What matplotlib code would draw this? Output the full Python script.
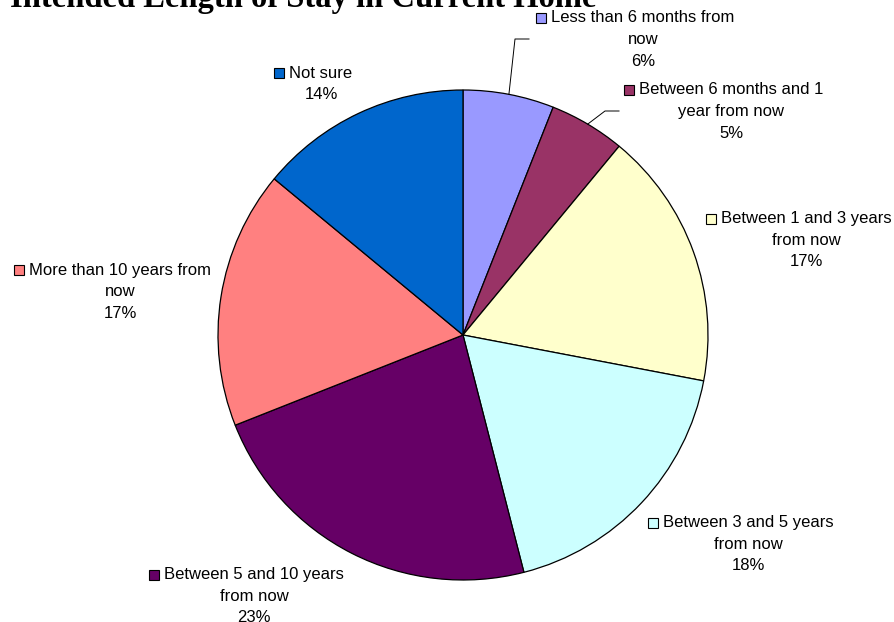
import matplotlib
matplotlib.use("Agg")
import matplotlib.pyplot as plt
import numpy as np
from matplotlib.patches import Rectangle

# survey answers, clockwise from 12 o'clock
categories = [
    "Less than 6 months from\nnow",
    "Between 6 months and 1\nyear from now",
    "Between 1 and 3 years\nfrom now",
    "Between 3 and 5 years\nfrom now",
    "Between 5 and 10 years\nfrom now",
    "More than 10 years from\nnow",
    "Not sure",
]
shares = [6, 5, 17, 18, 23, 17, 14]
colors = ["#9999FF", "#993366", "#FFFFCC", "#CCFFFF", "#660066", "#FF8080", "#0066CC"]

# label block placement (centre x, first line y) in pixels from the top left
label_pos = [(643, 18), (731, 90), (806, 219), (748, 523), (254, 575), (120, 270), (321, 73)]
# leader lines for the two thin slices: elbow point and end point
leaders = {0: [(515, 39), (529, 39)], 1: [(605, 111), (619, 111)]}

W, H = 894, 622
cx, cy, r = 463, 335, 245

fig = plt.figure(figsize=(W / 100, H / 100), dpi=100)
fig.patch.set_facecolor("white")

ax = fig.add_axes([(cx - r) / W, (H - cy - r) / H, 2 * r / W, 2 * r / H])
wedges, _ = ax.pie(shares, colors=colors, startangle=90, counterclock=False,
                   wedgeprops=dict(edgecolor="black", linewidth=0.9))
ax.set_xlim(-1, 1)
ax.set_ylim(-1, 1)
ax.set_aspect("equal")
ax.axis("off")

# overlay in pixel coordinates for the title, labels and leaders
ov = fig.add_axes([0, 0, 1, 1], zorder=5)
ov.set_xlim(0, W)
ov.set_ylim(H, 0)
ov.axis("off")

title_kw = dict(va="baseline", fontsize=23.5, fontweight="bold",
                family="Liberation Serif", clip_on=False)
ov.text(3, 7, "7", ha="right", **title_kw)
ov.text(10, 7, "Intended Length of Stay in Current Home", ha="left", **title_kw)

fig.canvas.draw()
renderer = fig.canvas.get_renderer()
inv = ov.transData.inverted()

line_h = 21.5
total = sum(shares)
start = 90.0
for i, (lab, val) in enumerate(zip(categories, shares)):
    lines = lab.split("\n") + [f"{val}%"]
    x0, y0 = label_pos[i]
    texts = []
    for k, ln in enumerate(lines):
        t = ov.text(x0, y0 + k * line_h, ln, ha="center", va="center",
                    fontsize=12, family="Liberation Sans", color="black")
        texts.append(t)
    # legend key to the left of the first line
    bb = texts[0].get_window_extent(renderer)
    left = inv.transform((bb.x0, bb.y0))[0]
    ov.add_patch(Rectangle((left - 15, y0 - 5), 10, 10, facecolor=colors[i],
                           edgecolor="black", linewidth=0.8))

    # slice mid angle for the leaders
    sweep = 360.0 * val / total
    mid = np.deg2rad(start - sweep / 2)
    start -= sweep
    if i in leaders:
        ex, ey = cx + r * np.cos(mid), cy - r * np.sin(mid)
        pts = [(ex, ey)] + leaders[i]
        ov.plot([p[0] for p in pts], [p[1] for p in pts], color="black", linewidth=0.7)

fig.savefig("out.png", dpi=100, facecolor="white")
